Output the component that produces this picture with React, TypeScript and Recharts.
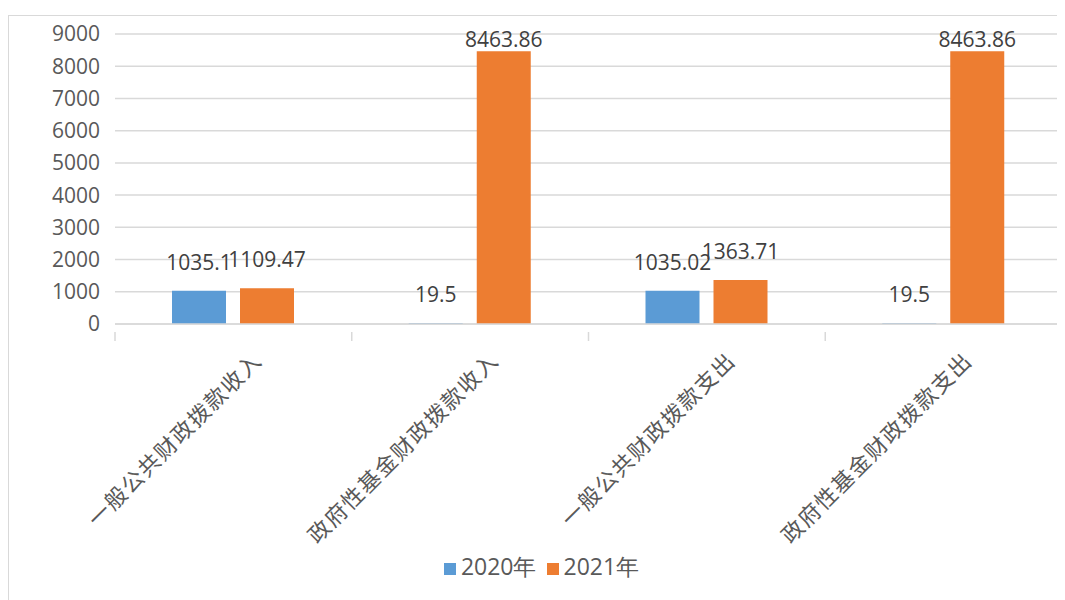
import React from 'react';
import { BarChart, Bar, XAxis, YAxis, CartesianGrid, Legend, LabelList } from 'recharts';

const categories = ['一般公共财政拨款收入', '政府性基金财政拨款收入', '一般公共财政拨款支出', '政府性基金财政拨款支出'];
const values2020 = [1035.1, 19.5, 1035.02, 19.5];
const values2021 = [1109.47, 8463.86, 1363.71, 8463.86];
const yTicks = [0, 1000, 2000, 3000, 4000, 5000, 6000, 7000, 8000, 9000];

const data = categories.map((name, i) => ({
  name,
  y2020: values2020[i],
  y2021: values2021[i],
}));

const NUM_FONT = '"Open Sans", "Noto Sans", sans-serif';
const CJK_FONT = '"Noto Sans CJK SC", "Noto Sans", sans-serif';
const HALF_BAND = (1062 - 115) / 8;

// 数据标签放在柱顶上方, 顶部不超出绘图区
const renderLabel = (props: any) => {
  const { x, y, width, value } = props;
  const baseY = Math.max(y - 21, 47);
  return (
    <text
      x={x + width / 2}
      y={baseY}
      textAnchor="middle"
      fontFamily={NUM_FONT}
      fontSize={21}
      fill="#404040"
    >
      {value}
    </text>
  );
};

// 类别标签 (斜 45 度) + 分类边界刻度线
const CategoryTick = (props: any) => {
  const { x, y, payload, index } = props;
  const ax = x + 30;
  const ay = y + 30;
  return (
    <g>
      <line x1={x - HALF_BAND} y1={y} x2={x - HALF_BAND} y2={y + 9} stroke="#D9D9D9" strokeWidth={1.5} />
      {index === categories.length - 1 && (
        <line x1={x + HALF_BAND} y1={y} x2={x + HALF_BAND} y2={y + 9} stroke="#D9D9D9" strokeWidth={1.5} />
      )}
      <text
        x={ax}
        y={ay}
        textAnchor="end"
        transform={`rotate(-45 ${ax} ${ay})`}
        fontFamily={CJK_FONT}
        fontSize={22}
        letterSpacing={1.5}
        fill="#595959"
      >
        {payload.value}
      </text>
    </g>
  );
};

const App: React.FC = () => {
  return (
    <div style={{ position: 'relative', width: 1065, height: 600, margin: '-8px 0 0 -8px', background: '#fff' }}>
      <div
        style={{
          position: 'absolute',
          left: 8,
          top: 15,
          width: 1057,
          height: 585,
          borderLeft: '1.5px solid #D9D9D9',
          borderTop: '1.5px solid #D9D9D9',
        }}
      />
      <BarChart
        width={1065}
        height={600}
        data={data}
        margin={{ top: 34, right: 3, left: 0, bottom: 0 }}
        barSize={54}
        barGap={14}
      >
        <CartesianGrid vertical={false} stroke="#D9D9D9" strokeWidth={1.5} />
        <XAxis
          dataKey="name"
          height={276}
          interval={0}
          axisLine={{ stroke: '#D9D9D9', strokeWidth: 1.5 }}
          tickLine={false}
          tick={<CategoryTick />}
        />
        <YAxis
          width={115}
          domain={[0, 9000]}
          ticks={yTicks}
          axisLine={false}
          tickLine={false}
          tickSize={0}
          tickMargin={15}
          tick={{ fontFamily: NUM_FONT, fontSize: 21, fill: '#595959' }}
        />
        <Legend
          layout="horizontal"
          verticalAlign="middle"
          align="center"
          iconType="square"
          iconSize={12}
          wrapperStyle={{ top: 550, left: 14, width: 1065, fontFamily: NUM_FONT, fontSize: 23 }}
          formatter={(value: string) => (
            <span style={{ color: '#595959', fontSize: 23, marginLeft: 1 }}>{value}</span>
          )}
        />
        <Bar dataKey="y2020" name="2020年" fill="#5B9BD5" isAnimationActive={false}>
          <LabelList dataKey="y2020" content={renderLabel} />
        </Bar>
        <Bar dataKey="y2021" name="2021年" fill="#ED7D31" isAnimationActive={false}>
          <LabelList dataKey="y2021" content={renderLabel} />
        </Bar>
      </BarChart>
    </div>
  );
};

export default App;
